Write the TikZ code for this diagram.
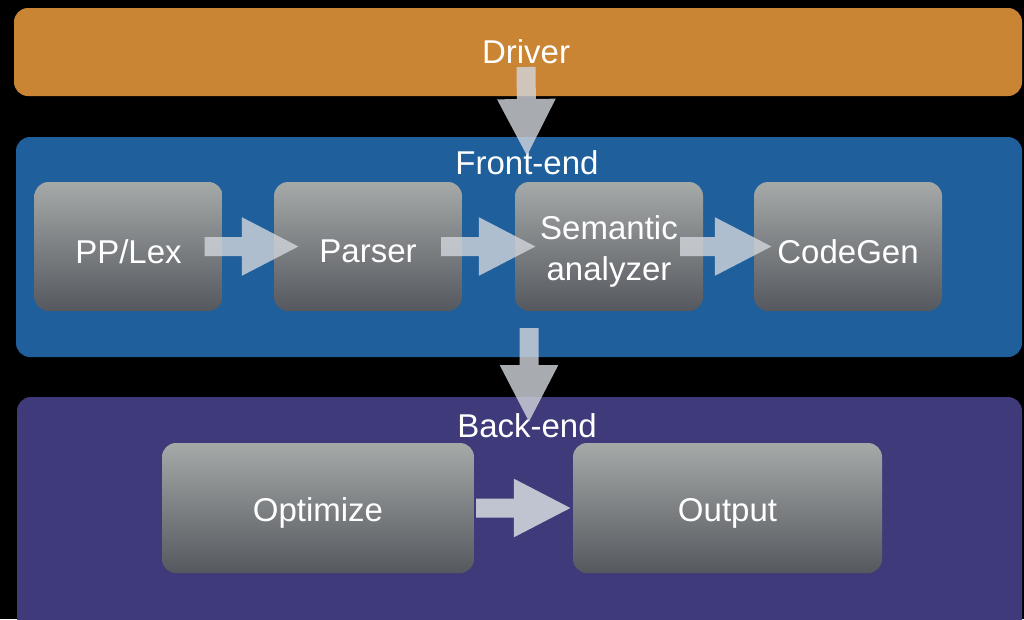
\documentclass[tikz,border=0pt]{standalone}
\usepackage{fontspec}
\setmainfont{Liberation Sans}
\usetikzlibrary{arrows.meta}
\definecolor{drvcol}{HTML}{C98534}
\definecolor{fecol}{HTML}{1F5F9C}
\definecolor{becol}{HTML}{3F3A7A}
\definecolor{boxtop}{HTML}{A5A9A8}
\definecolor{boxbot}{HTML}{55585E}
\definecolor{arrowcol}{HTML}{D2D6DC}

\begin{document}
\begin{tikzpicture}[x=1pt, y=-1pt,
    band/.style={rounded corners=14pt},
    stage/.style={rounded corners=14pt, top color=boxtop, bottom color=boxbot, inner sep=0pt},
    lbl/.style={text=white, font=\fontsize{33}{41}\selectfont, align=center, inner sep=0pt, yshift=-5pt},
    title/.style={text=white, font=\fontsize{33}{40}\selectfont, inner sep=0pt},
    flow/.style={line width=19pt, draw=arrowcol, -{Triangle[length=58pt, width=54pt]}},
]
    \fill[black] (0,0) rectangle (1024,619);
    \useasboundingbox (0,0) rectangle (1024,619);
    \clip (0,0) rectangle (1024,619);

    % three layers
    \fill[band, drvcol] (14,8) rectangle (1022,96);
    \fill[band, fecol] (16,137) rectangle (1022,357);
    \fill[band, becol] (17,397) rectangle (1022,640);

    \node[title] (drv) at (526,52) {Driver};
    \node[title] (fe) at (527,163) {Front-end};
    \node[title] (be) at (527,426) {Back-end};

    % front-end stages
    \node[stage, minimum width=188pt, minimum height=129pt, label={[lbl]center:PP/Lex}] (pplex) at (128.5,246.5) {};
    \node[stage, minimum width=188pt, minimum height=129pt, label={[lbl]center:Parser}] (parser) at (368,246.5) {};
    \node[stage, minimum width=188pt, minimum height=129pt, label={[lbl]center:Semantic\\analyzer}] (sema) at (609,246.5) {};
    \node[stage, minimum width=188pt, minimum height=129pt, label={[lbl]center:CodeGen}] (codegen) at (848,246.5) {};

    % back-end stages
    \node[stage, minimum width=312pt, minimum height=130pt, label={[lbl]center:Optimize}] (optim) at (318,508) {};
    \node[stage, minimum width=309pt, minimum height=130pt, label={[lbl]center:Output}] (outp) at (727.5,508) {};

    \coordinate (feout) at (529,328);

    \begin{scope}[transparency group, opacity=0.8]
        \draw[flow] ([yshift=-15pt]drv.center) -- ([yshift=6pt]fe.center);
    \end{scope}
    \begin{scope}[transparency group, opacity=0.8]
        \draw[flow] (feout) -- ([xshift=2pt, yshift=3pt]be.center);
    \end{scope}
    \begin{scope}[transparency group, opacity=0.8]
        \draw[flow] ([xshift=-18pt]pplex.east) -- ([xshift=26pt]parser.west);
    \end{scope}
    \begin{scope}[transparency group, opacity=0.8]
        \draw[flow] ([xshift=-21pt]parser.east) -- ([xshift=22pt]sema.west);
    \end{scope}
    \begin{scope}[transparency group, opacity=0.8]
        \draw[flow] ([xshift=-23pt]sema.east) -- ([xshift=19pt]codegen.west);
    \end{scope}
    \begin{scope}[transparency group, opacity=0.88]
        \draw[flow] ([xshift=2pt]optim.east) -- ([xshift=-1pt]outp.west);
    \end{scope}
\end{tikzpicture}
\end{document}
